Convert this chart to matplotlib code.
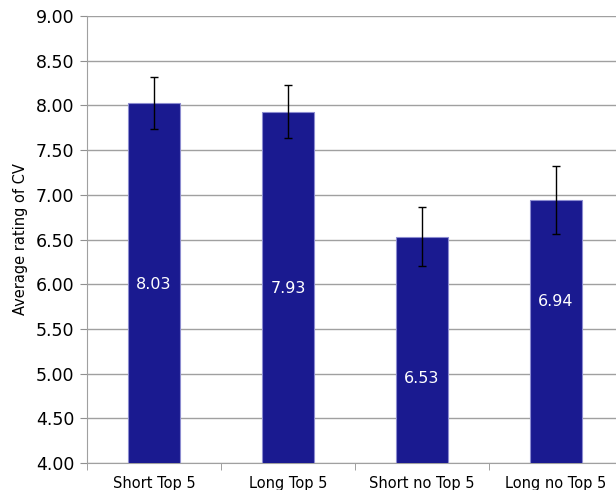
import numpy as np
import matplotlib.pyplot as plt

# Data
groups = ["Short Top 5", "Long Top 5", "Short no Top 5", "Long no Top 5"]
ratings = [8.03, 7.93, 6.53, 6.94]
errors = [0.29, 0.30, 0.33, 0.38]
label_pos = [6.00, 5.95, 4.94, 5.81]  # where the value labels sit

plt.rcParams['font.family'] = ['DejaVu Sans']

fig = plt.figure(figsize=(6.16, 4.90), dpi=100)
ax = fig.add_axes([87 / 616, 27 / 490, 536 / 616, 447 / 490])

x = np.arange(len(groups))
ax.bar(x, ratings, width=0.39, bottom=0, color="#1a1a90",
       edgecolor="#8c8cd0", linewidth=0.8, zorder=3)
ax.errorbar(x, ratings, yerr=errors, fmt="none", ecolor="black",
            elinewidth=1, capsize=3, capthick=1, zorder=4)

for xi, v, yp in zip(x, ratings, label_pos):
    ax.text(xi, yp, f"{v:.2f}", color="white", ha="center", va="center",
            fontsize=11.5, zorder=5)

ax.set_xlim(-0.5, len(groups) - 0.5)
ax.set_ylim(4.0, 9.0)
ax.set_yticks(np.arange(4.0, 9.01, 0.5))
ax.set_yticklabels([f"{t:.2f}" for t in np.arange(4.0, 9.01, 0.5)], fontsize=12.5)
ax.set_xticks(x)
ax.set_xticklabels(groups, fontsize=10.5)
ax.set_xticks(np.arange(-0.5, len(groups), 1), minor=True)
ax.tick_params(axis="x", which="major", length=0, pad=9)
ax.tick_params(axis="x", which="minor", length=5, color="#909090")
ax.tick_params(axis="y", length=5, color="#909090", pad=4)

ax.yaxis.grid(True, color="#a0a0a0", linewidth=1, zorder=0)
ax.set_axisbelow(True)
for s in ["top", "right"]:
    ax.spines[s].set_visible(False)
for s in ["left", "bottom"]:
    ax.spines[s].set_color("#a0a0a0")

ax.set_ylabel("Average rating of CV", fontsize=10.5, labelpad=6)

fig.savefig("out.png", dpi=100)
